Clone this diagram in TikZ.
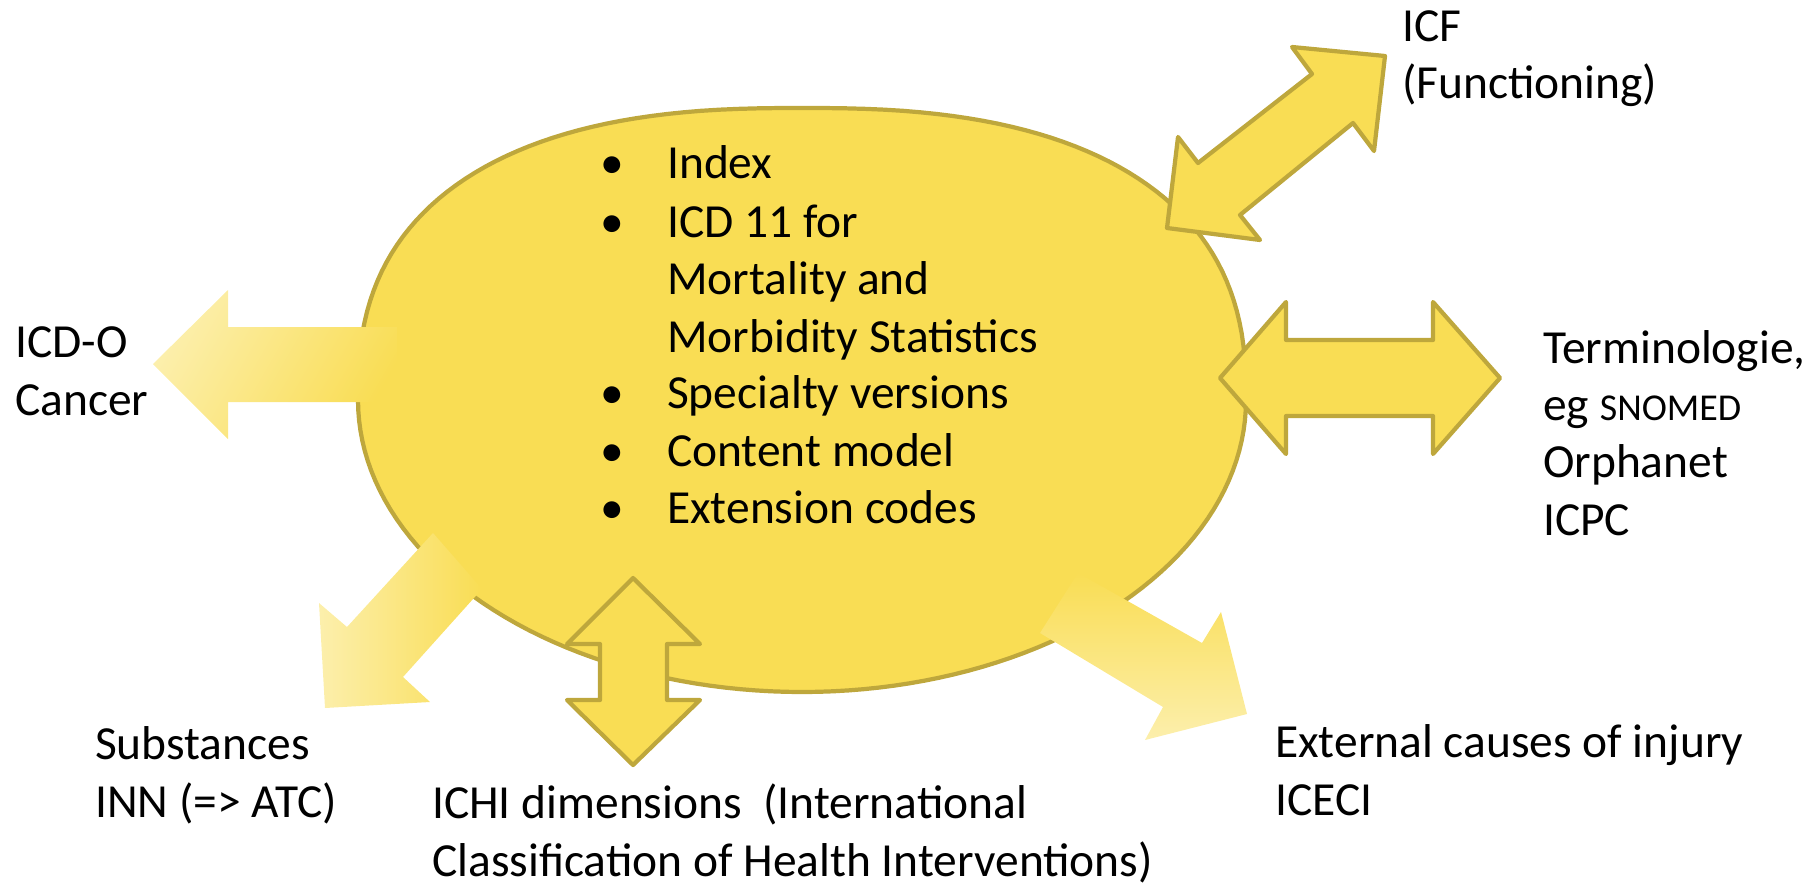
\documentclass[tikz,border=0pt]{standalone}
\usepackage{fontspec}
\setmainfont{Carlito}
\begin{document}
\begin{tikzpicture}[x=0.01cm,y=-0.01cm,line width=1.2pt,
	schrift/.style={font=\fontsize{13.5pt}{16.3pt}\selectfont,inner sep=0pt,anchor=base west,align=left},
	pfeil/.style={fill=gelb,draw=rand,line join=round}]
		\definecolor{gelb}{RGB}{249,221,84}
		\definecolor{hell}{RGB}{252,239,172}
		\definecolor{rand}{RGB}{190,167,60}
		\useasboundingbox (0,0) rectangle (1813,885);
		
		%Ellipse (oben etwas voller)
		\draw [fill=gelb,draw=rand] plot [domain=1:179,samples=90,variable=\t] ({802+444*sign(cos(\t))*abs(cos(\t))^0.8},{400-292*sin(\t)^0.8})
			-- plot [domain=180:360,samples=91,variable=\t] ({802+444*cos(\t)},{400-292*sin(\t)}) -- cycle;
		
		%Pfeile mit Verlauf
		\shade [left color=hell,right color=gelb,shading angle=60] (153,364) -- (228,290) -- (228,327) -- (397,327) -- (397,402) -- (228,402) -- (228,439) -- cycle;
		\shade [left color=hell,right color=gelb] (433,533) -- (347,627) -- (319,603) -- (325,708) -- (430,702) -- (403,677) -- (482,589) -- cycle;
		\shade [top color=gelb,bottom color=hell] (1078,573) -- (1202,643) -- (1221,612) -- (1247,714) -- (1145,740) -- (1163,707) -- (1040,633) -- cycle;
		
		%Doppelpfeile
		\draw [pfeil] (1385,56) -- (1292,47) -- (1312,74) -- (1198,163) -- (1178,137) -- (1167,228) -- (1260,240) -- (1240,215) -- (1353,123) -- (1374,151) -- cycle;
		\draw [pfeil] (1220,378) -- (1286,302) -- (1286,340) -- (1433,340) -- (1433,302) -- (1500,378) -- (1433,454) -- (1433,416) -- (1286,416) -- (1286,454) -- cycle;
		\draw [pfeil] (633,578) -- (700,644) -- (667,644) -- (667,700) -- (700,700) -- (633,765) -- (567,700) -- (600,700) -- (600,644) -- (567,644) -- cycle;
		
		%Liste
		\foreach \y/\zeile in {179/Index, 237/ICD 11 for, 294/Mortality and, 352/Morbidity Statistics, 408/Specialty versions, 466/Content model, 523/Extension codes}
			\node [schrift] (zeile\y) at (665,\y) {\zeile};
		\foreach \y in {179,237,408,466,523}
			\node [schrift,anchor=base] (punkt\y) at (612,\y) {\textbullet};
		
		%Beschriftung (Basislinie der letzten Zeile)
		\node [schrift] (icdo) at (13,415) {ICD-O\\Cancer};
		\node [schrift] (icf) at (1400,99) {ICF\\(Functioning)};
		\node [schrift] (termino) at (1541,535) {Terminologie,\\eg {\fontsize{10.8pt}{16.3pt}\selectfont SNOMED}\\Orphanet\\ICPC};
		\node [schrift] (substanz) at (93,817) {Substances\\INN (=> ATC)};
		\node [schrift] (ichi) at (430,876) {ICHI dimensions\ \ (International\\Classification of Health Interventions)};
		\node [schrift] (aussen) at (1273,815) {External causes of injury\\ICECI};
	\end{tikzpicture}
\end{document}
